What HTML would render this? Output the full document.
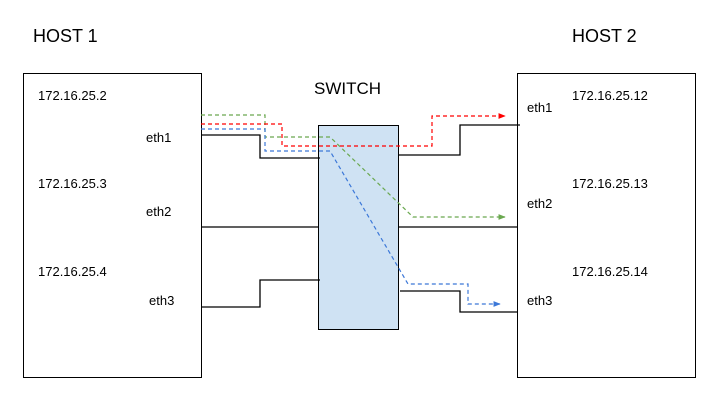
<!DOCTYPE html>
<html><head><style>
body{margin:0;background:#fff;width:725px;height:413px;overflow:hidden}
svg text{font-family:"Liberation Sans",Arial,sans-serif;fill:#000}
</style></head><body>
<svg width="725" height="413" viewBox="0 0 725 413" xmlns="http://www.w3.org/2000/svg">
<defs>
<marker id="ar" viewBox="0 0 10 10" refX="9" refY="5" markerWidth="6" markerHeight="6" orient="auto"><path d="M0,1 L10,5 L0,9z" fill="#ff0000"/></marker>
<marker id="ag" viewBox="0 0 10 10" refX="9" refY="5" markerWidth="6" markerHeight="6" orient="auto"><path d="M0,1 L10,5 L0,9z" fill="#6aa84f"/></marker>
<marker id="ab" viewBox="0 0 10 10" refX="9" refY="5" markerWidth="6" markerHeight="6" orient="auto"><path d="M0,1 L10,5 L0,9z" fill="#3c78d8"/></marker>
</defs>
<rect x="23.5" y="73.5" width="178" height="304" fill="#fff" stroke="#000"/>
<rect x="517.5" y="73.5" width="178" height="304" fill="#fff" stroke="#000"/>
<rect x="318.5" y="125.5" width="80" height="204" fill="#cfe2f3" stroke="#000"/>
<text x="33" y="42" font-size="18">HOST 1</text>
<text x="572" y="42" font-size="18">HOST 2</text>
<text x="314" y="94" font-size="17">SWITCH</text>
<g font-size="13">
<text x="38" y="100">172.16.25.2</text>
<text x="38" y="188">172.16.25.3</text>
<text x="38" y="276">172.16.25.4</text>
<text x="146" y="142">eth1</text>
<text x="146" y="216">eth2</text>
<text x="149" y="305">eth3</text>
<text x="572" y="100">172.16.25.12</text>
<text x="572" y="188">172.16.25.13</text>
<text x="572" y="276">172.16.25.14</text>
<text x="527" y="112">eth1</text>
<text x="527" y="208">eth2</text>
<text x="527" y="305">eth3</text>
</g>
<g fill="none" stroke="#000" stroke-width="1.3">
<polyline points="201,135 260,135 260,158 320,158"/>
<polyline points="398,155 460,155 460,125 520,125"/>
<line x1="201" y1="227" x2="318" y2="227"/>
<line x1="398" y1="227" x2="517" y2="227"/>
<polyline points="201,307 260,307 260,280 320,280"/>
<polyline points="400,291 460,291 460,312 517,312"/>
</g>
<g fill="none" stroke-width="1.2" stroke-dasharray="4,3">
<polyline stroke="#6aa84f" points="201,115 265,115 265,137 330,137 413,217 505,217" marker-end="url(#ag)"/>
<polyline stroke="#ff0000" points="201,124 282,124 282,146 432,146 432,116 505,116" marker-end="url(#ar)"/>
<polyline stroke="#3c78d8" points="201,129 265,129 265,151 330,151 408,284 468,284 468,304 500,304" marker-end="url(#ab)"/>
</g>
</svg>
</body></html>
